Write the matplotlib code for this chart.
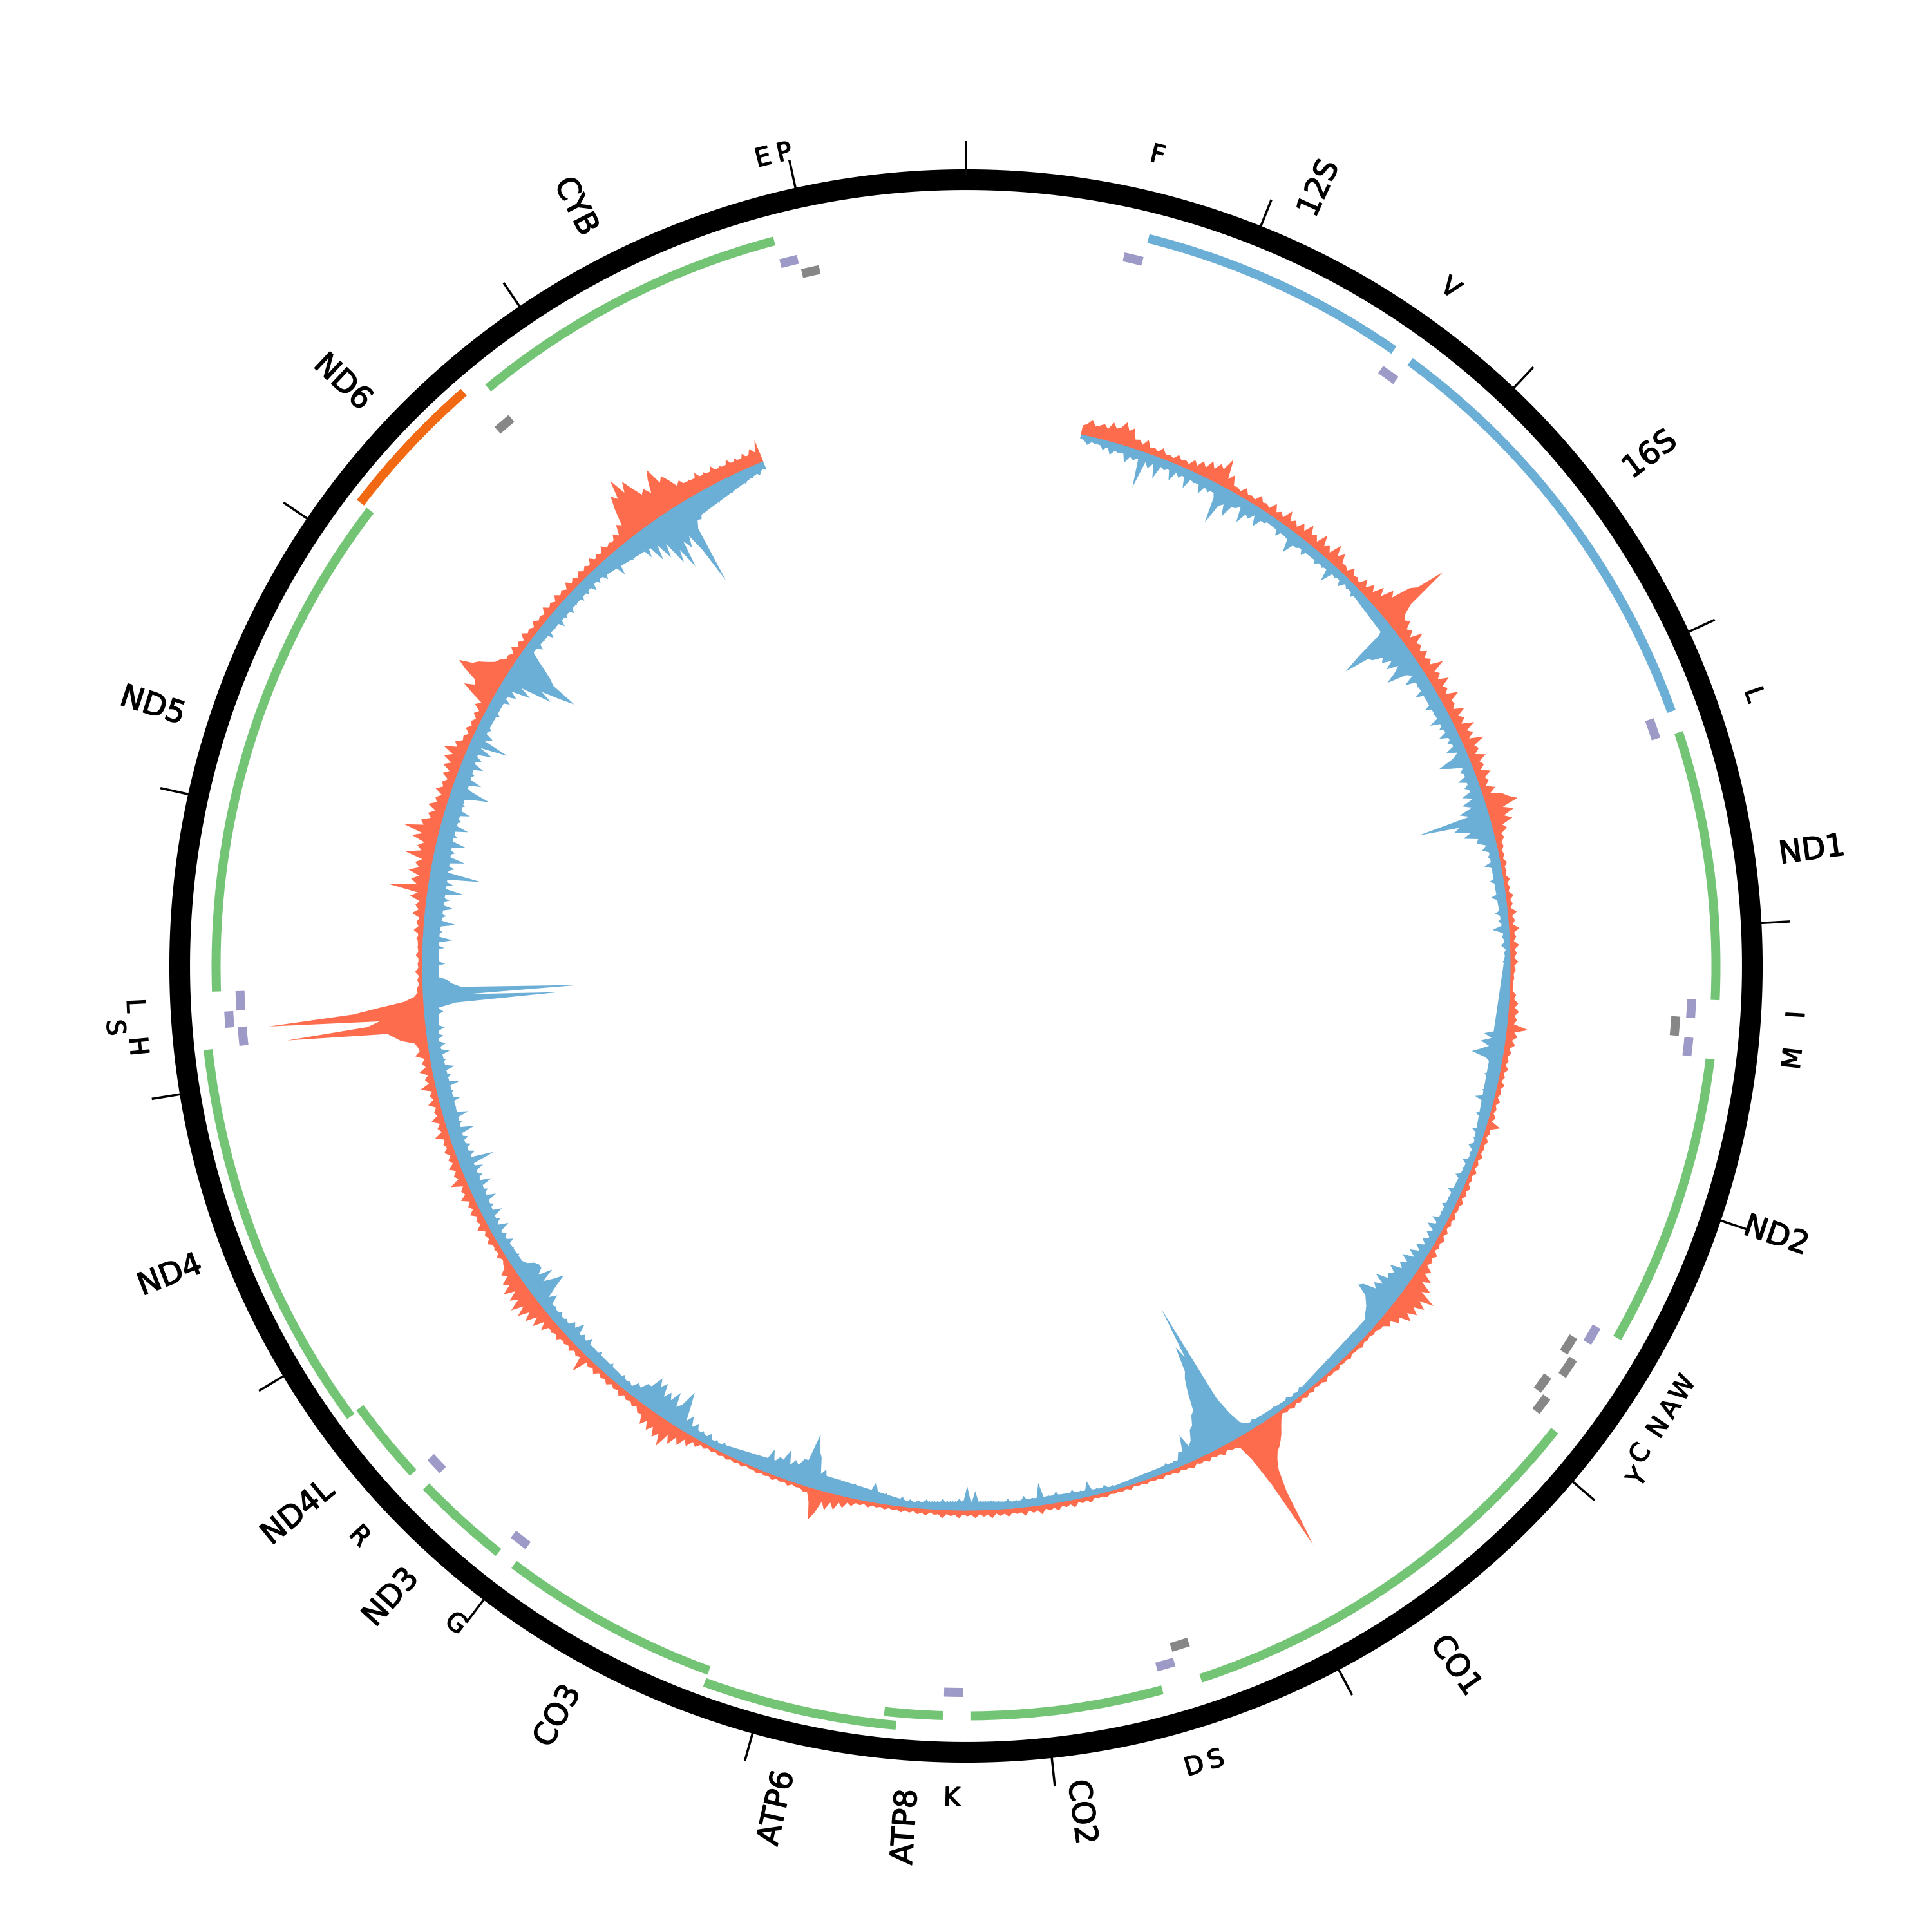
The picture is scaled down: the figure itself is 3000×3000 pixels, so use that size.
import matplotlib
matplotlib.use('Agg')
import matplotlib.pyplot as plt
import matplotlib.patheffects as pe
import numpy as np

GENOME = 16569
TICKS = np.arange(0, 17000, 1000)

# rRNA and protein genes
gene_names = ['12S', '16S', 'ND1', 'ND2', 'CO1', 'CO2', 'ATP8', 'ATP6', 'CO3', 'ND3',
              'ND4L', 'ND4', 'ND5', 'ND6', 'CYB']
gene_start = [648, 1671, 3307, 4470, 5904, 7586, 8366, 8527, 9207, 10059,
              10470, 10760, 12337, 14149, 14747]
gene_end = [1601, 3229, 4262, 5511, 7445, 8269, 8572, 9207, 9990, 10404,
            10766, 12137, 14148, 14673, 15887]

# tRNA genes, blank label where the picture has none
trna_labels = ['F', 'V', 'L', 'I', '', 'M', 'W', 'A', 'N', 'C', 'Y',
               'S', 'D', 'K', 'G', 'R', 'H', 'S', 'L', '', 'E', 'P']
trna_start = [577, 1602, 3230, 4263, 4329, 4402, 5512, 5587, 5657, 5761, 5826,
              7446, 7518, 8295, 9991, 10405, 12138, 12207, 12266, 14674, 15888, 15956]
trna_end = [647, 1670, 3304, 4331, 4400, 4469, 5579, 5655, 5729, 5826, 5891,
            7514, 7585, 8364, 10058, 10469, 12206, 12265, 12336, 14742, 15953, 16023]

# coverage, read every 20 bp from 560
forward = [
    14, 18, 26, 17, 20, 24, 18, 30, 22, 26, 36, 24, 30, 14, 16, 10, 20, 9, 12, 8,
    16, 8, 10, 7, 15, 9, 12, 8, 18, 11, 22, 14, 28, 18, 30, 24, 45, 14, 24, 9,
    10, 7, 16, 8, 10, 7, 18, 10, 12, 8,
    20, 9, 14, 8, 24, 10, 16, 9, 20, 11, 26, 13, 18, 10, 28, 12, 18, 10, 30, 14,
    24, 11, 12, 8, 18, 9, 12, 7, 20, 10, 22, 13, 30, 18, 38, 30, 60, 70, 116, 45,
    28, 22, 28, 16, 22, 13, 32, 15, 20, 12,
    22, 12, 20, 14, 34, 14, 20, 12, 28, 13, 18, 11, 30, 14, 16, 10, 26, 12, 20, 11,
    30, 14, 22, 12, 34, 15, 20, 11, 26, 13, 18, 10, 24, 12, 16, 9, 22, 12, 30, 38,
    50, 24, 40, 22, 34, 16, 22, 11, 14, 8,
    10, 6, 8, 5, 10, 5, 7, 4, 10, 5, 8, 5, 12, 6, 9, 5, 14, 6, 10, 6,
    16, 7, 10, 6, 14, 7, 10, 6, 12, 6, 8, 5, 6, 4, 5, 4, 10, 7, 14, 9,
    16, 10, 14, 10, 33, 12, 18, 10, 16, 8,
    12, 7, 10, 6, 12, 6, 9, 5, 11, 6, 9, 5, 10, 5, 8, 5, 10, 6, 21, 7,
    9, 5, 10, 6, 8, 5, 10, 5, 8, 5, 10, 5, 8, 5, 11, 6, 9, 5, 10, 6,
    8, 5, 10, 6, 9, 5, 10, 6, 12, 7,
    10, 6, 14, 8, 12, 8, 20, 12, 28, 16, 36, 24, 52, 30, 44, 28, 40, 26, 38, 20,
    26, 14, 18, 10, 10, 6, 8, 5, 7, 5, 9, 5, 6, 4, 8, 5, 6, 4, 8, 5,
    6, 4, 9, 5, 6, 4, 8, 5, 9, 5,
    8, 5, 10, 6, 8, 5, 11, 20, 30, 38, 45, 50, 60, 75, 110, 203, 90, 40, 16, 12,
    12, 8, 14, 9, 10, 7, 12, 7, 9, 6, 11, 7, 8, 5, 9, 5, 6, 4, 8, 5,
    6, 4, 7, 4, 5, 3, 7, 4, 6, 4,
    6, 4, 8, 5, 6, 4, 10, 5, 8, 5, 12, 6, 9, 6, 12, 7, 10, 6, 14, 7,
    10, 6, 13, 7, 9, 6, 12, 7, 10, 6, 13, 7, 10, 6, 12, 7, 9, 6, 12, 7,
    9, 6, 13, 7, 8, 5, 10, 6, 9, 5,
    8, 5, 9, 5, 7, 5, 8, 5, 7, 5, 9, 5, 8, 6, 12, 8, 18, 11, 24, 14,
    28, 16, 36, 48, 22, 8, 9, 5, 6, 4, 8, 4, 6, 4, 8, 4, 6, 4, 7, 4,
    5, 3, 7, 4, 6, 4, 7, 4, 7, 4,
    7, 4, 8, 5, 12, 7, 18, 10, 24, 14, 30, 18, 42, 24, 34, 20, 30, 18, 28, 14,
    16, 9, 13, 8, 11, 7, 13, 7, 10, 6, 12, 7, 10, 6, 13, 7, 11, 7, 32, 8,
    12, 7, 14, 8, 12, 7, 16, 9, 15, 9,
    24, 12, 30, 16, 34, 20, 38, 22, 41, 22, 34, 18, 36, 20, 28, 15, 22, 12, 10, 6,
    13, 7, 10, 6, 15, 8, 12, 7, 18, 9, 13, 8, 17, 9, 14, 8, 20, 10, 14, 8,
    26, 10, 15, 9, 18, 9, 14, 8, 16, 9,
    13, 8, 22, 9, 14, 8, 20, 9, 12, 7, 18, 8, 12, 7, 24, 9, 14, 8, 20, 9,
    14, 8, 22, 14, 16, 20, 40, 50, 60, 216, 90, 70, 242, 110, 70, 30, 14, 8, 9, 5,
    8, 5, 11, 6, 7, 4, 10, 5, 8, 5,
    10, 6, 15, 8, 12, 7, 20, 10, 16, 10, 26, 14, 60, 18, 28, 16, 34, 18, 26, 16,
    44, 20, 28, 18, 40, 24, 55, 26, 32, 18, 24, 14, 28, 16, 20, 12, 24, 14, 18, 11,
    22, 13, 26, 15, 30, 18, 36, 16, 22, 12,
    14, 8, 16, 9, 13, 8, 15, 9, 20, 12, 32, 50, 34, 38, 60, 75, 55, 48, 36, 26,
    22, 14, 15, 10, 18, 10, 14, 8, 18, 10, 13, 8, 16, 9, 12, 8, 17, 9, 13, 8,
    16, 9, 13, 8, 17, 9, 14, 8, 15, 9,
    14, 8, 18, 10, 15, 9, 20, 11, 16, 11, 22, 14, 30, 24, 50, 70, 60, 90, 62, 78,
    60, 44, 50, 38, 58, 72, 44, 52, 40, 26, 32, 18, 26, 15, 30, 18, 24, 14, 28, 15,
    22, 13, 26, 15, 22, 12, 24, 14, 26, 18,
    36]
reverse = [
    6, 8, 14, 8, 10, 7, 16, 9, 20, 12, 14, 9, 26, 14, 18, 10, 58, 14, 22, 12,
    34, 12, 16, 10, 28, 12, 18, 9, 30, 12, 16, 9, 28, 12, 20, 10, 22, 63, 30, 24,
    42, 22, 20, 14, 38, 20, 24, 14, 30, 16,
    16, 9, 12, 8, 22, 12, 14, 16, 36, 18, 18, 12, 22, 10, 14, 9, 20, 10, 16, 9,
    32, 12, 14, 8, 20, 9, 14, 8, 18, 9, 12, 7, 16, 8, 12, 7, 16, 8, 14, 9,
    25, 70, 99, 60, 55, 40, 46, 32, 46, 28,
    40, 57, 26, 18, 36, 16, 22, 14, 32, 14, 20, 12, 30, 13, 22, 12, 34, 15, 24, 13,
    30, 13, 22, 12, 30, 13, 24, 49, 34, 14, 22, 12, 30, 14, 24, 13, 32, 16, 36, 22,
    44, 30, 114, 50, 60, 34, 48, 26, 30, 16,
    24, 12, 18, 10, 26, 11, 16, 9, 22, 10, 16, 9, 24, 10, 14, 8, 20, 9, 16, 9,
    26, 9, 12, 7, 14, 7, 10, 6, 12, 6, 8, 5, 10, 5, 7, 4, 8, 5, 6, 4,
    8, 5, 10, 8, 20, 14, 34, 22, 38, 24,
    36, 49, 26, 18, 20, 12, 24, 12, 16, 9, 22, 11, 30, 12, 18, 10, 22, 10, 14, 8,
    20, 9, 14, 8, 18, 9, 12, 7, 18, 9, 14, 8, 20, 10, 14, 8, 22, 10, 16, 9,
    20, 10, 16, 9, 24, 11, 26, 12, 20, 11,
    20, 12, 24, 14, 28, 16, 34, 20, 30, 22, 40, 28, 36, 30, 50, 32, 44, 36, 55, 61,
    42, 36, 30, 26, 22, 14, 12, 8, 14, 8, 10, 6, 14, 7, 10, 6, 12, 7, 9, 6,
    12, 6, 9, 6, 12, 7, 9, 6, 12, 7,
    10, 6, 12, 7, 10, 6, 12, 7, 10, 6, 12, 8, 14, 10, 14, 20, 40, 70, 233, 150,
    170, 130, 120, 100, 70, 65, 50, 46, 30, 24, 45, 20, 22, 10, 12, 7, 14, 7, 9, 5,
    10, 5, 7, 4, 8, 4, 6, 4, 7, 4,
    8, 5, 12, 6, 10, 6, 24, 8, 12, 7, 16, 8, 11, 7, 18, 9, 14, 8, 35, 9,
    14, 8, 18, 9, 13, 7, 16, 8, 12, 7, 15, 8, 14, 9, 30, 10, 38, 12, 18, 9,
    13, 7, 18, 9, 12, 7, 15, 8, 12, 7,
    13, 7, 16, 8, 12, 7, 18, 8, 14, 32, 16, 8, 14, 8, 24, 12, 18, 10, 26, 12,
    20, 14, 34, 25, 50, 60, 84, 40, 40, 28, 34, 24, 46, 28, 30, 20, 38, 18, 20, 10,
    16, 8, 12, 7, 16, 8, 13, 7, 16, 8,
    14, 8, 18, 9, 16, 9, 22, 12, 28, 16, 40, 60, 34, 26, 48, 30, 40, 28, 48, 38,
    50, 30, 30, 18, 22, 11, 16, 9, 18, 9, 15, 9, 20, 10, 16, 9, 22, 11, 18, 10,
    26, 14, 22, 14, 32, 18, 24, 12, 18, 10,
    20, 10, 18, 12, 30, 18, 36, 57, 40, 26, 48, 26, 36, 36, 32, 22, 18, 10, 20, 10,
    18, 10, 24, 12, 20, 11, 30, 12, 22, 11, 32, 12, 24, 12, 34, 14, 26, 12, 38, 14,
    28, 13, 34, 14, 57, 16, 30, 14, 28, 14,
    28, 13, 42, 14, 26, 13, 40, 14, 24, 12, 34, 14, 26, 12, 38, 14, 28, 13, 36, 14,
    24, 12, 32, 14, 28, 13, 26, 14, 30, 16, 22, 16, 30, 22, 50, 210, 70, 241, 60, 45,
    38, 18, 26, 14, 36, 16, 24, 13, 34, 15,
    46, 18, 30, 16, 50, 20, 34, 18, 44, 18, 36, 18, 56, 20, 38, 18, 80, 22, 36, 18,
    50, 20, 32, 18, 46, 18, 30, 16, 44, 18, 30, 16, 40, 16, 28, 15, 32, 61, 30, 16,
    42, 18, 26, 14, 36, 16, 28, 14, 40, 18,
    61, 20, 30, 14, 22, 12, 18, 11, 24, 12, 18, 11, 28, 14, 32, 20, 50, 30, 80, 60,
    90, 113, 70, 60, 46, 30, 16, 10, 24, 12, 18, 10, 26, 12, 20, 11, 28, 13, 22, 12,
    26, 12, 20, 11, 24, 12, 22, 12, 26, 12,
    22, 12, 26, 13, 22, 12, 38, 14, 24, 13, 30, 16, 24, 16, 44, 26, 58, 34, 62, 40,
    80, 60, 95, 52, 68, 50, 80, 139, 48, 36, 38, 26, 32, 20, 26, 16, 30, 16, 22, 13,
    26, 14, 18, 11, 22, 13, 18, 10, 18, 10,
    14]
positions = 560 + 20 * np.arange(len(forward))

# solid part of each band, read every 500 bp from 560
forward_core = [15, 8, 8, 9, 14, 12, 6, 7, 6, 6, 7, 5, 5, 6, 5, 7, 5, 4, 5, 7, 14, 9, 10, 10,
                8, 14, 9, 10, 10, 30, 18]
reverse_core = [6, 12, 12, 10, 18, 14, 14, 7, 20, 9, 12, 18, 7, 8, 6, 11, 9, 25, 10, 12, 14, 14,
                20, 18, 25, 24, 16, 14, 16, 35, 10]
core_positions = 560 + 500 * np.arange(len(forward_core))


def to_theta(bp):
    return np.asarray(bp) / GENOME * 2 * np.pi


def arc(ax, start, end, radius, width, color):
    t0, t1 = to_theta(start), to_theta(end)
    ax.bar((t0 + t1) / 2, width, width=t1 - t0, bottom=radius - width / 2,
           color=color, linewidth=0)


def label(ax, bp, radius, text, size, rotation):
    ax.text(to_theta(bp), radius, text, fontsize=size, rotation=rotation,
            rotation_mode='anchor', ha='center', va='center',
            path_effects=[pe.withStroke(linewidth=0.35, foreground='black')])


fig = plt.figure(figsize=(10, 10), dpi=300)
ax = fig.add_axes([0, 0, 1, 1], projection='polar')
ax.set_theta_zero_location('N')
ax.set_theta_direction(-1)

# Coverage around the baseline
base = 845
red = '#fd6c4c'
blue = '#6baed6'
theta = to_theta(positions)
core_theta = to_theta(core_positions)
ax.fill_between(theta, base, base + np.array(forward), color=red, linewidth=0)
ax.fill_between(core_theta, base, base + np.array(forward_core), color=red, linewidth=0)
ax.fill_between(theta, base - np.array(reverse), base, color=blue, linewidth=0)
ax.fill_between(core_theta, base - np.array(reverse_core), base, color=blue, linewidth=0)

# Outer ring and ticks
ring = np.linspace(0, 2 * np.pi, 1000)
ax.plot(ring, np.full(1000, 1221), color='black', lw=7.7, solid_capstyle='butt')
ax.vlines(to_theta(TICKS[TICKS < GENOME]), 1236, 1281, color='black', lw=0.85)

# Genes and their labels
for name, start, end in zip(gene_names, gene_start, gene_end):
    radius = 1184 if name in ('ATP6', 'ND4', 'ND6') else 1164.5
    if name in ('12S', '16S'):
        color = blue
    elif name == 'ND6':
        color = '#f16913'
    else:
        color = '#74c476'
    arc(ax, start, end, radius, 14, color)

    angle = (start + end) / 2 / GENOME * 360
    rotation = 90 - angle if angle < 180 else 270 - angle
    label(ax, (start + end) / 2, 1340 if len(name) > 3 else 1326, name, 11.5, rotation)

# tRNAs: grey on the light strand, purple on the heavy strand
grey = (4, 7, 8, 9, 10, 11, 19, 21)
for i, (name, start, end) in enumerate(zip(trna_labels, trna_start, trna_end)):
    radius = 1105 if i in grey else 1128
    if i in (8, 10):
        radius = 1123
    if i == 17:
        radius = 1147
    arc(ax, start, end, radius, 14, '#878787' if i in grey else '#9e9ac8')

    if not name:
        continue
    angle = (start + end) / 2 / GENOME * 360
    rotation = 180 - angle if 90 < angle < 270 else -angle
    label_r = 1293
    if i == 10:
        label_r = 1312
    if i == 17:
        label_r = 1326
    label(ax, (start + end) / 2, label_r, name, 9.5, rotation)

ax.set_xlim(0, 2 * np.pi)
ax.set_ylim(0, 1500)
ax.axis('off')
fig.savefig('out.png', dpi=300, facecolor='white')
